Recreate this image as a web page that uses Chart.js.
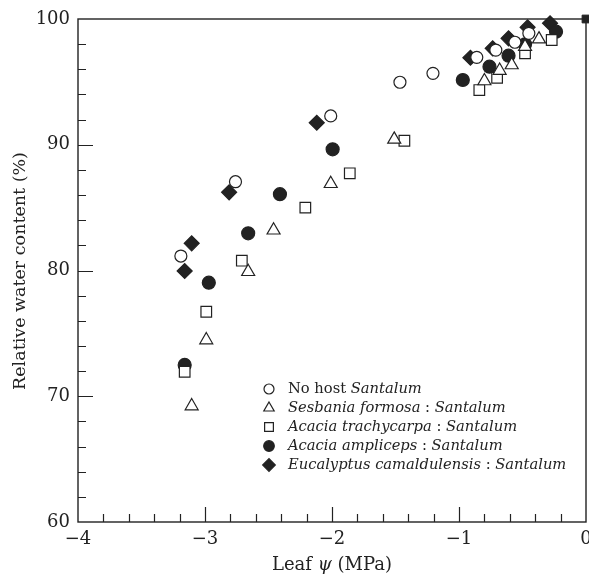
<!DOCTYPE html>
<html><head><meta charset="utf-8">
<script src="https://cdn.jsdelivr.net/npm/chart.js@4/dist/chart.umd.min.js"></script>
<style>html,body{margin:0;padding:0;background:#fff;overflow:hidden}
#wrap{width:589px;height:582px;position:relative}</style></head>
<body><div id="wrap"><canvas id="c"></canvas></div>
<script>
// ---- data ----
const xTickValues = [-4, -3, -2, -1, 0];
const xTickLabels = ['\u22124', '\u22123', '\u22122', '\u22121', '0'];
const yTickValues = [60, 70, 80, 90, 100];
const yTickLabels = ['60', '70', '80', '90', '100'];
const xMinorStep = 0.2;
const yMinorStep = 2;
const xTitle = [['Leaf ', false], ['\u03c8', true], [' (MPa)', false]];
const yTitle = 'Relative water content (%)';

const seriesNames = [
  [['No host ', false], ['Santalum', true]],
  [['Sesbania formosa', true], [' : ', false], ['Santalum', true]],
  [['Acacia trachycarpa', true], [' : ', false], ['Santalum', true]],
  [['Acacia ampliceps', true], [' : ', false], ['Santalum', true]],
  [['Eucalyptus camaldulensis', true], [' : ', false], ['Santalum', true]]
];

const noHostX = [-3.19, -2.76, -2.01, -1.465, -1.205, -0.86, -0.71, -0.56, -0.45];
const noHostY = [81.15, 87.06, 92.29, 94.97, 95.68, 96.95, 97.53, 98.15, 98.86];

const sesbaniaX = [-3.105, -2.99, -2.66, -2.46, -2.01, -1.51, -0.80, -0.68, -0.585, -0.48, -0.37];
const sesbaniaY = [69.22, 74.47, 79.9, 83.2, 86.9, 90.43, 95.07, 95.9, 96.34, 97.8, 98.4];

const trachycarpaX = [-3.16, -2.99, -2.71, -2.21, -1.86, -1.43, -0.84, -0.70, -0.48, -0.27];
const trachycarpaY = [71.95, 76.72, 80.78, 85.0, 87.73, 90.32, 94.35, 95.33, 97.27, 98.33];

const amplicepsX = [-3.16, -2.97, -2.66, -2.41, -1.995, -0.97, -0.76, -0.61, -0.48, -0.236];
const amplicepsY = [72.49, 79.03, 82.96, 86.07, 89.64, 95.15, 96.21, 97.08, 97.99, 98.99];

const eucalyptusX = [-3.16, -3.105, -2.81, -2.12, -0.91, -0.735, -0.61, -0.46, -0.283];
const eucalyptusY = [79.96, 82.16, 86.22, 91.75, 96.92, 97.67, 98.46, 99.34, 99.66];

const overlapX = [0];
const overlapY = [100];

// ---- helpers ----
const INK = '#222';
const FONT = '"DejaVu Serif", "Liberation Serif", serif';
const pts = (xs, ys) => xs.map((x, i) => ({x: x, y: ys[i]}));

const styles = [
  {pointStyle: 'circle', radius: 6, backgroundColor: '#fff'},
  {pointStyle: 'triangle', radius: 7.5, backgroundColor: '#fff'},
  {pointStyle: 'rect', radius: 7.5, backgroundColor: '#fff'},
  {pointStyle: 'circle', radius: 6.5, backgroundColor: INK},
  {pointStyle: 'rectRot', radius: 7.5, backgroundColor: INK}
];
const legendRadius = [5, 6, 6.2, 5.3, 6.3];

const seriesData = [
  pts(noHostX, noHostY),
  pts(sesbaniaX, sesbaniaY),
  pts(trachycarpaX, trachycarpaY),
  pts(amplicepsX, amplicepsY),
  pts(eucalyptusX, eucalyptusY)
];

const datasets = seriesData.map((d, i) => ({
  label: seriesNames[i].map(s => s[0]).join(''),
  data: d,
  pointStyle: styles[i].pointStyle,
  pointRadius: styles[i].radius,
  pointHoverRadius: styles[i].radius,
  backgroundColor: styles[i].backgroundColor,
  borderColor: INK,
  borderWidth: 1.2,
  showLine: false,
  clip: false
}));
datasets.push({
  label: 'overlap',
  data: pts(overlapX, overlapY),
  pointStyle: 'rect',
  pointRadius: 5.5,
  backgroundColor: INK,
  borderColor: INK,
  borderWidth: 1,
  showLine: false,
  clip: false
});

function drawSegments(ctx, segs, x, y, size, align) {
  const widths = segs.map(s => {
    ctx.font = (s[1] ? 'italic ' : '') + size + 'px ' + FONT;
    return ctx.measureText(s[0]).width;
  });
  const total = widths.reduce((a, b) => a + b, 0);
  let cx = align === 'center' ? x - total / 2 : x;
  segs.forEach((s, i) => {
    ctx.font = (s[1] ? 'italic ' : '') + size + 'px ' + FONT;
    ctx.fillText(s[0], cx, y);
    cx += widths[i];
  });
}

const decor = {
  id: 'decor',
  beforeDatasetsDraw(chart) {
    const {ctx, chartArea: a, scales} = chart;
    const xs = scales.x, ys = scales.y;
    ctx.save();
    ctx.strokeStyle = INK;
    ctx.lineWidth = 1.4;
    ctx.strokeRect(a.left, a.top, a.right - a.left, a.bottom - a.top);
    ctx.lineWidth = 1.2;
    ctx.beginPath();
    for (let v = xs.min + xMinorStep; v < xs.max - 1e-6; v += xMinorStep) {
      const vv = Math.round(v * 10) / 10;
      const major = xTickValues.some(t => Math.abs(t - vv) < 1e-6);
      const px = Math.round(xs.getPixelForValue(vv)) + 0.5;
      ctx.moveTo(px, a.bottom);
      ctx.lineTo(px, a.bottom - (major ? 15 : 8));
    }
    for (let v = ys.min + yMinorStep; v < ys.max - 1e-6; v += yMinorStep) {
      const major = yTickValues.some(t => Math.abs(t - v) < 1e-6);
      const py = Math.round(ys.getPixelForValue(v)) + 0.5;
      ctx.moveTo(a.left, py);
      ctx.lineTo(a.left + (major ? 15 : 8), py);
    }
    ctx.stroke();
    ctx.restore();
  },
  afterDraw(chart) {
    const {ctx} = chart;
    ctx.save();
    ctx.fillStyle = INK;
    ctx.textBaseline = 'middle';
    // legend
    const lx = 269, ltx = 288, ly0 = 389, ldy = 19;
    seriesNames.forEach((segs, i) => {
      const y = ly0 + i * ldy;
      ctx.strokeStyle = INK;
      ctx.lineWidth = 1.2;
      ctx.fillStyle = styles[i].backgroundColor;
      Chart.helpers.drawPoint(ctx, {pointStyle: styles[i].pointStyle, radius: legendRadius[i], borderWidth: 1.2}, lx, y);
      ctx.fillStyle = INK;
      ctx.textAlign = 'left';
      drawSegments(ctx, segs, ltx, y, 14.7, 'left');
    });
    // x title
    ctx.textAlign = 'left';
    drawSegments(ctx, xTitle, 332, 565, 18, 'center');
    // y title
    ctx.translate(20, 271);
    ctx.rotate(-Math.PI / 2);
    ctx.textAlign = 'center';
    ctx.font = '17.5px ' + FONT;
    ctx.fillText(yTitle, 0, 0);
    ctx.restore();
  }
};

new Chart(document.getElementById('c'), {
  type: 'scatter',
  data: {datasets: datasets},
  options: {
    responsive: true,
    maintainAspectRatio: false,
    animation: false,
    events: [],
    layout: {autoPadding: false, padding: {top: 19, right: 3, left: 0, bottom: 0}},
    plugins: {legend: {display: false}, tooltip: {enabled: false}},
    scales: {
      x: {
        type: 'linear', min: -4, max: 0,
        border: {display: false},
        grid: {display: false, drawTicks: false},
        afterBuildTicks: s => { s.ticks = xTickValues.map(v => ({value: v})); },
        ticks: {
          color: INK, padding: 7,
          font: {family: FONT, size: 18},
          maxRotation: 0, autoSkip: false,
          callback: v => xTickLabels[xTickValues.indexOf(v)]
        },
        afterFit: s => { s.paddingLeft = 0; s.paddingRight = 0; s.height = 60; }
      },
      y: {
        type: 'linear', min: 60, max: 100,
        border: {display: false},
        grid: {display: false, drawTicks: false},
        afterBuildTicks: s => { s.ticks = yTickValues.map(v => ({value: v})); },
        ticks: {
          color: INK, padding: 8,
          font: {family: FONT, size: 18},
          autoSkip: false,
          callback: v => yTickLabels[yTickValues.indexOf(v)]
        },
        afterFit: s => { s.paddingTop = 0; s.paddingBottom = 0; s.width = 78; }
      }
    }
  },
  plugins: [decor]
});
</script>
</body></html>
